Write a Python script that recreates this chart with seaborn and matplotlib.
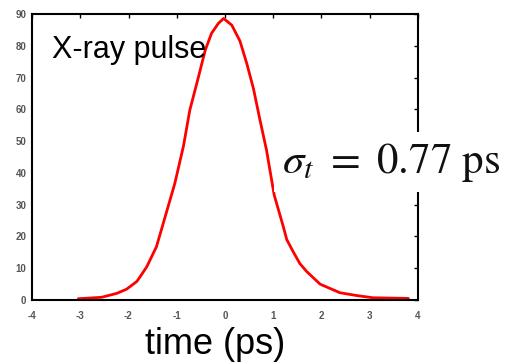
import matplotlib
matplotlib.use("Agg")
import matplotlib.pyplot as plt
import seaborn as sns
import pandas as pd

# data
time_ps = [-3.04, -2.56, -2.24, -2.04, -1.83, -1.76, -1.62, -1.42, -1.24, -1.04,
           -0.86, -0.73, -0.55, -0.41, -0.28, -0.14, -0.03, 0.14, 0.31, 0.45,
           0.59, 0.72, 0.86, 1.02, 1.21, 1.28, 1.42, 1.55, 1.69, 1.97,
           2.38, 2.73, 3.07, 3.80]
intensity = [0.4, 0.85, 2.1, 3.4, 5.8, 7.3, 10.5, 16.8, 26.2, 36.7,
             48.5, 59.7, 70.2, 78.6, 83.9, 87.0, 88.6, 86.5, 81.5, 74.5,
             66.5, 57.0, 47.2, 33.0, 23.0, 19.0, 15.0, 11.5, 9.0, 5.0,
             2.3, 1.4, 0.7, 0.5]
x_ticks = [-4, -3, -2, -1, 0, 1, 2, 3, 4]
y_ticks = [0, 10, 20, 30, 40, 50, 60, 70, 80, 90]

df = pd.DataFrame({"time": time_ps, "intensity": intensity})

sns.set_style("white")
plt.rcParams['font.family'] = ['Liberation Sans', 'DejaVu Sans']
plt.rcParams['mathtext.fontset'] = 'stix'

fig = plt.figure(figsize=(5.10, 3.64), dpi=100)
ax = fig.add_axes([32/510, 64/364, (418-32)/510, (300-14)/364])

sns.lineplot(data=df, x="time", y="intensity", ax=ax, color="#ff0000", linewidth=2.0)

ax.set_xlim(-4, 4)
ax.set_ylim(0, 90)
ax.set_xticks(x_ticks)
ax.set_yticks(y_ticks)
ax.set_xticklabels([str(v) for v in x_ticks], fontsize=7, color="#555555", fontweight="bold")
ax.set_yticklabels([str(v) for v in y_ticks], fontsize=7, color="#555555", fontweight="bold")
ax.tick_params(direction="in", length=3, width=1, top=True, right=True, color="black")
ax.tick_params(axis="x", pad=8)
ax.tick_params(axis="y", pad=4)
for s in ax.spines.values():
    s.set_visible(True)
    s.set_color("black")
    s.set_linewidth(1.5)

ax.set_xlabel("")
ax.set_ylabel("")

fig.text(215/510, 1 - 344/364, "time (ps)", fontsize=26, ha="center", va="center", color="black")
fig.text(52/510, 1 - 50/364, "X-ray pulse", fontsize=22, ha="left", va="center", color="black")
fig.text(282/510, 1 - 162/364, r"$\sigma_t\ =\ 0.77\ \mathrm{ps}$", fontsize=31,
         ha="left", va="center", color="#111111",
         bbox=dict(facecolor="white", edgecolor="none", pad=6))

fig.savefig("out.png", dpi=100)
